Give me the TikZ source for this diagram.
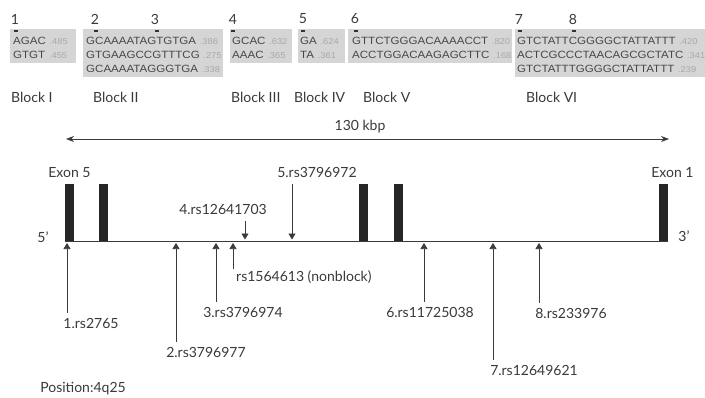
\documentclass[tikz,border=0pt]{standalone}
\usepackage{fontspec}
\setmainfont{Lato}
\newfontfamily\seqfont[FakeStretch=1.1]{Liberation Sans}
\usepackage{xcolor}
\usetikzlibrary{arrows.meta, positioning}

\definecolor{ink}{HTML}{3A3A3A}
\definecolor{boxgray}{HTML}{D5D5D5}
\definecolor{freqgray}{HTML}{A8A8A8}
\newcommand{\hapfreq}[1]{\hspace{0.35em}{\color{freqgray}\fontsize{8.5}{10}\selectfont#1}}

\begin{document}
\begin{tikzpicture}[
    x=1pt, y=-1pt,
    lbl/.style={text=ink, font=\fontsize{14}{16}\selectfont, inner sep=1pt},
    seqrow/.style={anchor=west, inner sep=0pt, text=black!72, font=\seqfont\fontsize{10.5}{12}\selectfont},
    hapbox/.style={fill=boxgray},
    tickmark/.style={fill=black!80, minimum width=4pt, minimum height=1.5pt, inner sep=0pt},
    exon/.style={fill=black!85, minimum width=9pt, minimum height=57pt, inner sep=0pt},
    snp/.style={draw=ink, line width=0.7pt, -{Triangle[length=6pt, width=7pt]}}
  ]
    \fill[white] (0,0) rectangle (705,397);
    \useasboundingbox (0,0) rectangle (705,397);

    % haplotype blocks
    \fill[hapbox] (10,29) rectangle (76,63);
    \fill[hapbox] (83,29) rectangle (223,77);
    \fill[hapbox] (230,29) rectangle (292,63);
    \fill[hapbox] (298,29) rectangle (345,63);
    \fill[hapbox] (348,29) rectangle (512,63);
    \fill[hapbox] (515,29) rectangle (705,77);

    \node[seqrow] (b1a) at (13,41) {AGAC\hapfreq{.485}};
    \node[seqrow] (b1b) at (13,55) {GTGT\hapfreq{.455}};
    \node[seqrow] (b2a) at (86,41) {GCAAAATAGTGTGA\hapfreq{.386}};
    \node[seqrow] (b2b) at (86,55) {GTGAAGCCGTTTCG\hapfreq{.275}};
    \node[seqrow] (b2c) at (86,69) {GCAAAATAGGGTGA\hapfreq{.338}};
    \node[seqrow] (b3a) at (232,41) {GCAC\hapfreq{.632}};
    \node[seqrow] (b3b) at (232,55) {AAAC\hapfreq{.365}};
    \node[seqrow] (b4a) at (300,41) {GA\hapfreq{.624}};
    \node[seqrow] (b4b) at (300,55) {TA\hapfreq{.361}};
    \node[seqrow] (b5a) at (352,41) {GTTCTGGGACAAAACCT\hapfreq{.820}};
    \node[seqrow] (b5b) at (352,55) {ACCTGGACAAGAGCTTC\hapfreq{.168}};
    \node[seqrow] (b6a) at (517,41) {GTCTATTCGGGGCTATTATTT\hapfreq{.420}};
    \node[seqrow] (b6b) at (517,55) {ACTCGCCCTAACAGCGCTATC\hapfreq{.341}};
    \node[seqrow] (b6c) at (517,69) {GTCTATTTGGGGCTATTATTT\hapfreq{.239}};

    % SNP numbers
    \node[lbl] (n1) at (15,19) {1};
    \node[lbl] (n2) at (95,19) {2};
    \node[lbl] (n3) at (155,19) {3};
    \node[lbl] (n4) at (233,19) {4};
    \node[lbl] (n5) at (303,19) {5};
    \node[lbl] (n6) at (355,19) {6};
    \node[lbl] (n7) at (519,19) {7};
    \node[lbl] (n8) at (573,19) {8};
    \node[tickmark] (m1) at (16,31) {};
    \node[tickmark] (m2) at (96,31) {};
    \node[tickmark] (m3) at (157,31) {};
    \node[tickmark] (m4) at (233,31) {};
    \node[tickmark] (m5) at (303,31) {};
    \node[tickmark] (m6) at (356,31) {};
    \node[tickmark] (m7) at (520,31) {};
    \node[tickmark] (m8) at (574,31) {};

    % Block names
    \node[lbl, anchor=west] (blk1) at (10,97) {Block I};
    \node[lbl, anchor=west] (blk2) at (92,97) {Block II};
    \node[lbl, anchor=west] (blk3) at (230,97) {Block III};
    \node[lbl, anchor=west] (blk4) at (293,97) {Block IV};
    \node[lbl, anchor=west] (blk5) at (362,97) {Block V};
    \node[lbl, anchor=west] (blk6) at (525,97) {Block VI};

    % gene span
    \coordinate (spanL) at (66,139);
    \coordinate (spanR) at (669,139);
    \draw[ink, line width=0.7pt, {Stealth[length=8pt, width=6pt]}-{Stealth[length=8pt, width=6pt]}] (spanL) -- (spanR);
    \node[lbl] (kbp) at (360,127) {130 kbp};

    % exons
    \node[exon] (e1) at (69.5,212.5) {};
    \node[exon] (e2) at (103.5,212.5) {};
    \node[exon] (e3) at (363.5,212.5) {};
    \node[exon] (e4) at (398,212.5) {};
    \node[exon] (e5) at (663.5,212.5) {};
    \draw[ink, line width=1pt] (e1.south west) -- (e5.south east);
    \node[lbl, above=5pt of e1] (ex5) {Exon 5};
    \node[lbl, above=5pt of e5, xshift=9pt] (ex1) {Exon 1};
    \node[lbl] (five) at (43,237) {5’};
    \node[lbl] (three) at (684,236) {3’};

    % SNP positions on the gene
    \coordinate (p1) at (67,243);
    \coordinate (p2) at (176,243);
    \coordinate (p3) at (216,243);
    \coordinate (pnb) at (233,243);
    \coordinate (p4) at (245,239.5);
    \coordinate (p5) at (292,239.5);
    \coordinate (p6) at (424,243);
    \coordinate (p7) at (493,243);
    \coordinate (p8) at (539,243);

    % SNP labels
    \node[lbl] (s1) at (91,323) {1.rs2765};
    \node[lbl] (s2) at (206,352) {2.rs3796977};
    \node[lbl] (s3) at (243,312) {3.rs3796974};
    \node[lbl, anchor=west] (snb) at (235,277) {rs1564613 (nonblock)};
    \node[lbl] (s4) at (223,209) {4.rs12641703};
    \node[lbl] (s5) at (317,172) {5.rs3796972};
    \node[lbl] (s6) at (430,312) {6.rs11725038};
    \node[lbl] (s7) at (534,370) {7.rs12649621};
    \node[lbl] (s8) at (571,313) {8.rs233976};

    % Arrows
    \draw[snp] ([yshift=4pt]s1.north -| p1) -- (p1);
    \draw[snp] ([yshift=4pt]s2.north -| p2) -- (p2);
    \draw[snp] ([yshift=4pt]s3.north -| p3) -- (p3);
    \draw[snp] (snb.north -| pnb) -- (pnb);
    \draw[snp] ([yshift=-6pt]s4.south -| p4) -- (p4);
    \draw[snp] ([yshift=-6pt]s5.south -| p5) -- (p5);
    \draw[snp] ([yshift=4pt]s6.north -| p6) -- (p6);
    \draw[snp] ([yshift=4pt]s7.north -| p7) -- (p7);
    \draw[snp] ([yshift=4pt]s8.north -| p8) -- (p8);

    \node[lbl] (pos) at (83,389) {Position:4q25};
  \end{tikzpicture}
\end{document}
